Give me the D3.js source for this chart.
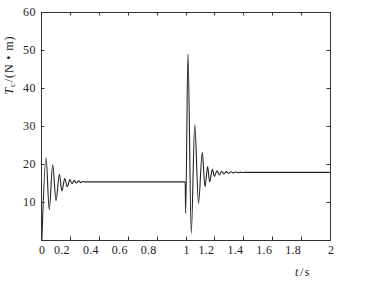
<!DOCTYPE html>
<html>
<head>
<meta charset="utf-8">
<script src="https://cdn.jsdelivr.net/npm/d3@7"></script>
<style>
  body { margin: 0; background: #fff; }
  svg { display: block; }
  .tick-label { font-family: "Liberation Serif", "Times New Roman", serif; font-size: 12px; fill: #222; }
</style>
</head>
<body>
<svg id="chart" width="366" height="284"></svg>
<script>
// 启动与负载突变时的转矩响应曲线 T_c(t)

// 起动段 (0 ~ 0.3 s)
const startTimes = [0.006, 0.035, 0.057, 0.081, 0.104, 0.127, 0.145, 0.164, 0.182,
  0.2, 0.215, 0.23, 0.245, 0.26, 0.275, 0.29, 0.305];
const startTorque = [0, 21.6, 8.0, 19.8, 10.3, 17.3, 12.9, 16.2, 14.0,
  15.9, 14.8, 15.7, 15.0, 15.6, 15.1, 15.4, 15.3];

// 负载突变段 (1.0 ~ 2.0 s)
const stepTimes = [0.998, 1.001, 1.017, 1.04, 1.064, 1.09, 1.116, 1.135, 1.153, 1.167,
  1.186, 1.2, 1.218, 1.234, 1.25, 1.266, 1.282, 1.298, 1.314, 1.33, 1.346,
  1.362, 1.378, 1.395, 1.41, 2.0];
const stepTorque = [15.3, 7.0, 49.0, 1.8, 30.3, 9.6, 23.0, 14.0, 19.3, 15.3,
  18.6, 16.7, 18.2, 17.1, 18.1, 17.4, 18.0, 17.55, 17.95, 17.65, 17.9,
  17.7, 17.85, 17.75, 17.8, 17.8];

const xTicks = [0, 0.2, 0.4, 0.6, 0.8, 1, 1.2, 1.4, 1.6, 1.8, 2];
const yTicks = [10, 20, 30, 40, 50, 60];

const margin = { left: 41, top: 12, right: 36, bottom: 44 };
const svg = d3.select("#chart");
const width = +svg.attr("width") - margin.left - margin.right;
const height = +svg.attr("height") - margin.top - margin.bottom;

const g = svg.append("g").attr("transform", `translate(${margin.left},${margin.top})`);

const x = d3.scaleLinear().domain([0, 2]).range([0, width]);
const y = d3.scaleLinear().domain([0, 60]).range([height, 0]);

const points = startTimes.map((t, i) => [t, startTorque[i]])
  .concat(stepTimes.map((t, i) => [t, stepTorque[i]]));

const line = d3.line()
  .x((d) => x(d[0]))
  .y((d) => y(d[1]))
  .curve(d3.curveMonotoneX);

g.append("path")
  .datum(points)
  .attr("fill", "none")
  .attr("stroke", "#222")
  .attr("stroke-width", 1.1)
  .attr("d", line);

// 边框
g.append("rect")
  .attr("x", 0.5).attr("y", 0.5)
  .attr("width", width).attr("height", height)
  .attr("fill", "none")
  .attr("stroke", "#333")
  .attr("stroke-width", 1);

const tickLen = 3.5;
const innerX = xTicks.filter((d) => d > 0 && d < 2);
const innerY = yTicks.filter((d) => d < 60);

// 内向刻度（四边）
g.selectAll(".xtick-b").data(innerX).join("line")
  .attr("class", "xtick-b")
  .attr("x1", (d) => Math.round(x(d)) + 0.5).attr("x2", (d) => Math.round(x(d)) + 0.5)
  .attr("y1", height).attr("y2", height - tickLen)
  .attr("stroke", "#333");
g.selectAll(".xtick-t").data(innerX).join("line")
  .attr("class", "xtick-t")
  .attr("x1", (d) => Math.round(x(d)) + 0.5).attr("x2", (d) => Math.round(x(d)) + 0.5)
  .attr("y1", 0.5).attr("y2", tickLen)
  .attr("stroke", "#333");
g.selectAll(".ytick-l").data(innerY).join("line")
  .attr("class", "ytick-l")
  .attr("y1", (d) => Math.round(y(d)) + 0.5).attr("y2", (d) => Math.round(y(d)) + 0.5)
  .attr("x1", 0.5).attr("x2", tickLen)
  .attr("stroke", "#333");
g.selectAll(".ytick-r").data(innerY).join("line")
  .attr("class", "ytick-r")
  .attr("y1", (d) => Math.round(y(d)) + 0.5).attr("y2", (d) => Math.round(y(d)) + 0.5)
  .attr("x1", width + 0.5).attr("x2", width - tickLen)
  .attr("stroke", "#333");

// 刻度标签
g.selectAll(".xlabel").data(xTicks).join("text")
  .attr("class", "tick-label xlabel")
  .attr("x", (d) => x(d) + (Number.isInteger(d) ? 1 : 0))
  .attr("y", height + 14)
  .attr("text-anchor", (d) => (Number.isInteger(d) ? "middle" : "end"))
  .attr("letter-spacing", (d) => (Number.isInteger(d) ? 0 : 0.3))
  .text((d) => String(d));

g.selectAll(".ylabel").data(yTicks).join("text")
  .attr("class", "tick-label ylabel")
  .attr("x", -5)
  .attr("y", (d) => y(d) + 4)
  .attr("text-anchor", "end")
  .attr("letter-spacing", 0.5)
  .text((d) => String(d));

// 坐标轴标题
const yTitle = svg.append("text")
  .attr("class", "tick-label")
  .attr("transform", "translate(13,65) rotate(-90)")
  .attr("text-anchor", "middle")
  .attr("font-size", "12.5px")
  .attr("letter-spacing", 0.9);
yTitle.append("tspan").attr("font-style", "italic").text("T");
yTitle.append("tspan").attr("font-size", "8.5px").attr("dy", 2).text("c");
yTitle.append("tspan").attr("dy", -2).text("/(N • m)");

const xTitle = svg.append("text")
  .attr("class", "tick-label")
  .attr("x", 303)
  .attr("y", 276)
  .attr("text-anchor", "middle")
  .attr("letter-spacing", 1.5);
xTitle.append("tspan").attr("font-style", "italic").text("t");
xTitle.append("tspan").text("/s");
</script>
</body>
</html>
